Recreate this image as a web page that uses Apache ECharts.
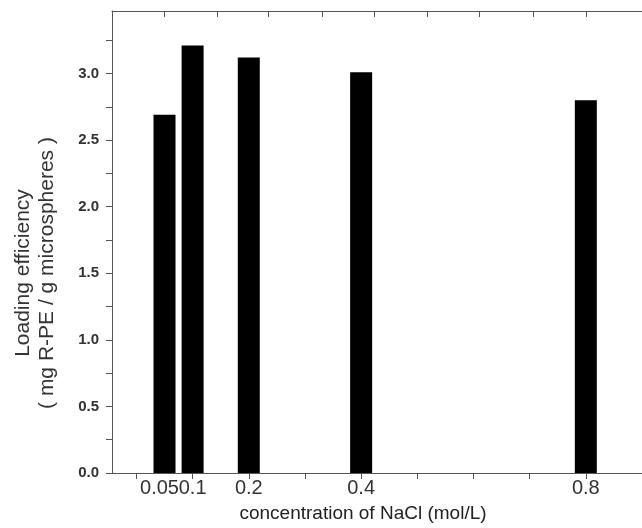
<!DOCTYPE html>
<html>
<head>
<meta charset="utf-8">
<script src="https://cdn.jsdelivr.net/npm/echarts@6/dist/echarts.min.js"></script>
<style>
  html, body { margin: 0; padding: 0; background: #fff; }
  #chart { width: 642px; height: 528px; }
</style>
</head>
<body>
<div id="chart"></div>
<script>
// NaCl concentration (mol/L) and loading efficiency (mg R-PE / g microspheres)
const concentrations = [0.05, 0.1, 0.2, 0.4, 0.8]
const loading = [2.69, 3.21, 3.12, 3.01, 2.8]

// tick / label positions
const xLabels = [0.1, 0.2, 0.4, 0.8]
const xLabelsFirst = [0.05] // on its own axis so the overlap check doesn't drop it
const xTicks = [0, 0.1, 0.2, 0.3, 0.4, 0.5, 0.6, 0.7, 0.8, 0.9]
const topTicks = [0.05, 0.143, 0.235, 0.33, 0.424, 0.518, 0.61, 0.706, 0.8]
const yLabels = [0, 0.5, 1, 1.5, 2, 2.5, 3]
const yTicks = [0, 0.25, 0.5, 0.75, 1, 1.25, 1.5, 1.75, 2, 2.25, 2.5, 2.75, 3, 3.25]

const axisColor = '#555'
const font = 'Liberation Sans, Arial, sans-serif'
const xMin = -0.0435
const xMax = 0.9

const chart = echarts.init(document.getElementById('chart'))

const labelStyle = {
  margin: 5,
  color: '#333',
  fontFamily: font,
  fontSize: 20,
  formatter: (v) => String(v)
}

const option = {
  animation: false,
  grid: {
    left: 112,
    right: -14,
    top: 11,
    bottom: 54
  },
  xAxis: [
    {
      type: 'value',
      min: xMin,
      max: xMax,
      splitLine: { show: false },
      axisLine: { onZero: false, lineStyle: { color: axisColor, width: 1 } },
      axisTick: {
        customValues: xTicks,
        length: 6,
        lineStyle: { color: axisColor }
      },
      axisLabel: { ...labelStyle, customValues: xLabels },
      name: 'concentration of NaCl (mol/L)',
      nameLocation: 'middle',
      nameGap: 31,
      nameTextStyle: {
        color: '#222',
        fontFamily: font,
        fontSize: 19,
        padding: [0, 28, 0, 0]
      }
    },
    {
      type: 'value',
      position: 'top',
      min: xMin,
      max: xMax,
      splitLine: { show: false },
      axisLine: { onZero: false, lineStyle: { color: axisColor, width: 1 } },
      axisTick: {
        inside: true,
        customValues: topTicks,
        length: 6,
        lineStyle: { color: axisColor }
      },
      axisLabel: { show: false }
    },
    {
      type: 'value',
      position: 'bottom',
      min: xMin,
      max: xMax,
      splitLine: { show: false },
      axisLine: { show: false, onZero: false },
      axisTick: { show: false },
      axisLabel: { ...labelStyle, customValues: xLabelsFirst, padding: [0, 10, 0, 0] }
    }
  ],
  yAxis: {
    type: 'value',
    min: 0,
    max: 3.47,
    splitLine: { show: false },
    axisLine: { show: true, onZero: false, lineStyle: { color: axisColor, width: 1 } },
    axisTick: {
      show: true,
      customValues: yTicks,
      length: 6,
      lineStyle: { color: axisColor }
    },
    axisLabel: {
      customValues: yLabels,
      margin: 13,
      color: '#333',
      fontFamily: font,
      fontSize: 15,
      fontWeight: 'bold',
      formatter: (v) => v.toFixed(1)
    }
  },
  graphic: [
    {
      type: 'text',
      x: 35,
      y: 273,
      rotation: Math.PI / 2,
      style: {
        text: 'Loading efficiency\n( mg R-PE / g microspheres )',
        fill: '#333',
        font: '21px ' + font,
        lineHeight: 24,
        align: 'center',
        verticalAlign: 'middle'
      }
    }
  ],
  series: [
    {
      type: 'bar',
      xAxisIndex: 0,
      barWidth: 22,
      itemStyle: { color: '#000' },
      data: concentrations.map((c, i) => [c, loading[i]])
    }
  ]
}

chart.setOption(option)
</script>
</body>
</html>
